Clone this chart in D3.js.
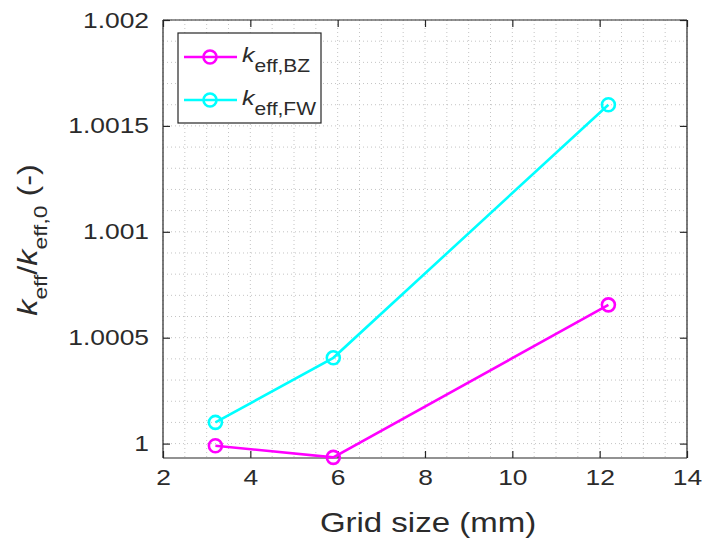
<!DOCTYPE html>
<html><head><meta charset="utf-8">
<script src="https://cdn.jsdelivr.net/npm/d3@7"></script>
<style>body{margin:0;background:#fff}svg{display:block}text{font-family:"Liberation Sans",Arial,sans-serif;fill:#2b2b2b}</style>
</head><body>
<svg id="c" width="704" height="538"></svg>
<script>
const gridSize = [3.2, 5.9, 12.2];
const keffBZ = [0.99999, 0.999935, 1.000655];
const keffFW = [1.0001, 1.000405, 1.0016];
const xTicks = [2, 4, 6, 8, 10, 12, 14];
const yTicks = [1, 1.0005, 1.001, 1.0015, 1.002];
const yTickLabels = ["1", "1.0005", "1.001", "1.0015", "1.002"];
const seriesNames = ["BZ", "FW"];
const seriesColors = ["#ff00ff", "#00ffff"];

const SX = 1.2; // horizontal stretch of the reference's font
const svg = d3.select("#c");
const L = 163, R = 687, T = 20, B = 458;
const x = d3.scaleLinear().domain([2, 14]).range([L, R]);
const y = d3.scaleLinear().domain([0.999932, 1.002]).range([B, T]);

// minor grid
const gx = d3.range(2, 14.001, 0.5);
const gy = d3.range(0, 21).map(i => 1 + i * 0.0001);
const g = svg.append("g");
g.selectAll(".vx").data(gx).enter().append("line")
  .attr("x1", d => x(d)).attr("x2", d => x(d)).attr("y1", T).attr("y2", B)
  .attr("stroke", "#c4c4c4").attr("stroke-width", 1).attr("stroke-dasharray", "1,3");
g.selectAll(".hy").data(gy).enter().append("line")
  .attr("y1", d => y(d)).attr("y2", d => y(d)).attr("x1", L).attr("x2", R)
  .attr("stroke", "#c4c4c4").attr("stroke-width", 1).attr("stroke-dasharray", "1,3");

// axes
const xAxis = d3.axisBottom(x).tickValues(xTicks).tickSize(-7).tickPadding(11).tickFormat(d3.format("d"));
const yAxis = d3.axisLeft(y).tickValues(yTicks).tickSize(-7).tickPadding(14).tickFormat((d, i) => yTickLabels[i]);
const xa = svg.append("g").attr("transform", `translate(0,${B})`).call(xAxis);
const ya = svg.append("g").attr("transform", `translate(${L},0)`).call(yAxis);
const xt = svg.append("g").attr("transform", `translate(0,${T})`).call(d3.axisTop(x).tickValues(xTicks).tickSize(-7).tickFormat(""));
const yr = svg.append("g").attr("transform", `translate(${R},0)`).call(d3.axisRight(y).tickValues(yTicks).tickSize(-7).tickFormat(""));
[xa, ya, xt, yr].forEach(a => {
  a.select(".domain").attr("stroke", "#262626").attr("stroke-width", 1.2);
  a.selectAll(".tick line").attr("stroke", "#262626").attr("stroke-width", 1.2);
  a.selectAll(".tick text").style("font-size", "22px").attr("fill", "#2b2b2b")
    .attr("transform", `scale(${SX},1)`);
});
ya.selectAll(".tick text").attr("x", -14 / SX);
xa.selectAll(".domain").attr("d", `M${L},0H${R}`);
xt.selectAll(".domain").attr("d", `M${L},0H${R}`);
ya.selectAll(".domain").attr("d", `M0,${T}V${B}`);
yr.selectAll(".domain").attr("d", `M0,${T}V${B}`);

// series
const data = [keffBZ, keffFW];
const line = d3.line().x((d, i) => x(gridSize[i])).y(d => y(d));
data.forEach((vals, s) => {
  svg.append("path").datum(vals).attr("d", line).attr("fill", "none")
    .attr("stroke", seriesColors[s]).attr("stroke-width", 2.6);
  svg.selectAll(".m" + s).data(vals).enter().append("circle")
    .attr("cx", (d, i) => x(gridSize[i])).attr("cy", d => y(d)).attr("r", 6.5)
    .attr("fill", "none").attr("stroke", seriesColors[s]).attr("stroke-width", 2.6);
});

// legend
const lg = svg.append("g");
lg.append("rect").attr("x", 178).attr("y", 33).attr("width", 143).attr("height", 90)
  .attr("fill", "#fff").attr("stroke", "#262626").attr("stroke-width", 1.2);
seriesNames.forEach((n, i) => {
  const yy = 57 + i * 43;
  lg.append("line").attr("x1", 184).attr("x2", 237).attr("y1", yy).attr("y2", yy)
    .attr("stroke", seriesColors[i]).attr("stroke-width", 2.6);
  lg.append("circle").attr("cx", 210).attr("cy", yy).attr("r", 6.5).attr("fill", "none")
    .attr("stroke", seriesColors[i]).attr("stroke-width", 2.6);
  const t = lg.append("g").attr("transform", `translate(242,${yy + 5}) scale(${SX},1)`)
    .append("text").style("font-size", "21px");
  t.append("tspan").text("k").style("font-style", "italic");
  t.append("tspan").text("eff," + n).attr("dy", 10).style("font-size", "17.5px");
});

// axis labels
svg.append("g").attr("transform", `translate(428,532) scale(${SX},1)`)
  .append("text").attr("text-anchor", "middle").style("font-size", "27.5px").text("Grid size (mm)");
const yl = svg.append("g").attr("transform", `translate(37,240) rotate(-90) scale(${SX},1)`)
  .append("text").attr("text-anchor", "middle").style("font-size", "27px");
yl.append("tspan").text("k").style("font-style", "italic");
yl.append("tspan").text("eff").attr("dy", 10).style("font-size", "19px");
yl.append("tspan").text("/").attr("dy", -10);
yl.append("tspan").text("k").style("font-style", "italic");
yl.append("tspan").text("eff,0").attr("dy", 10).style("font-size", "19px");
yl.append("tspan").text(" (-)").attr("dy", -10);
</script>
</body></html>
